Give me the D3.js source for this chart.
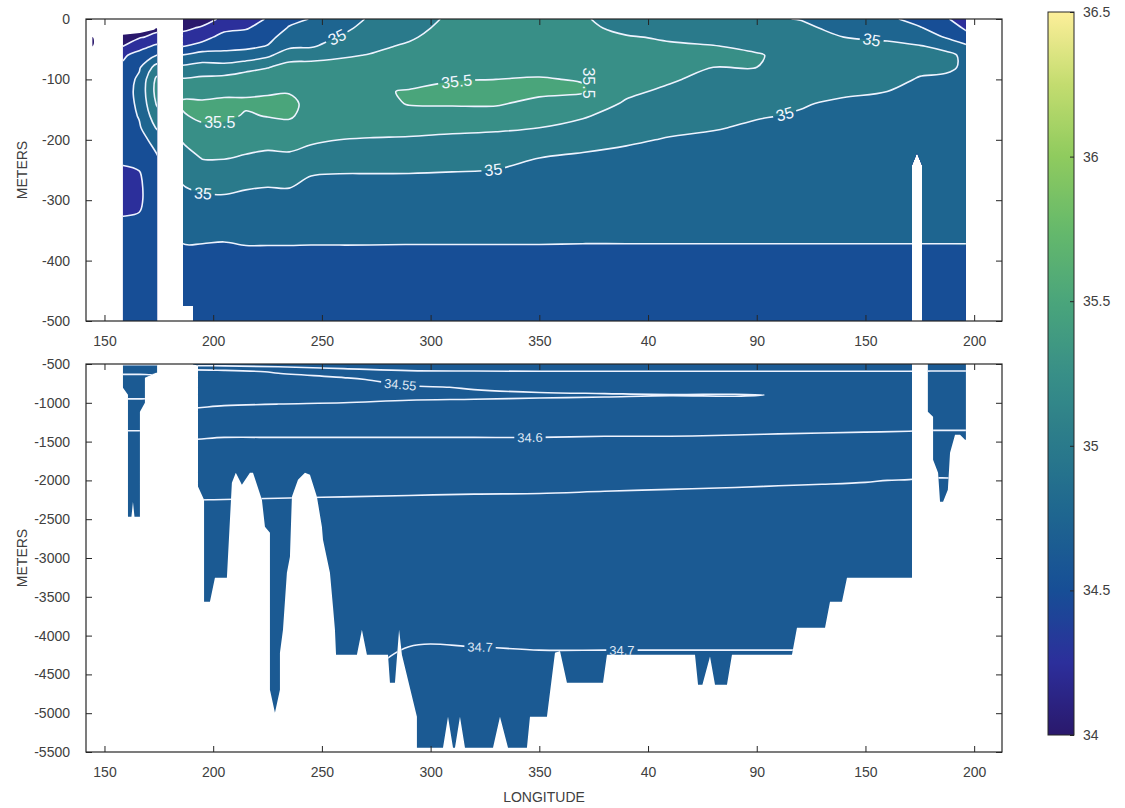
<!DOCTYPE html>
<html><head><meta charset="utf-8">
<script src="https://d3js.org/d3.v7.min.js"></script>
<style>
html,body{margin:0;padding:0;background:#fff;}
svg text{font-family:"Liberation Sans",Arial,Helvetica,sans-serif;}
</style></head>
<body>
<svg id="chart" width="1125" height="808"></svg>
<script>
// ---------------- DATA ----------------
const xTickValues = [150,200,250,300,350,400,450,500,550];
const xTickLabels = ["150","200","250","300","350","40","90","150","200"];
const topYTicks = [0,-100,-200,-300,-400,-500];
const bottomYTicks = [-500,-1000,-1500,-2000,-2500,-3000,-3500,-4000,-4500,-5000,-5500];
const colorbarTicks = [34,34.5,35,35.5,36,36.5];

// upper panel grid: station positions and depths (m)
const topCols = [144.5,158,166,174,186,195,205,215,225,235,245,258,272,290,310,330,350,370,390,410,430,450,470,490,510,525,537,547];
const topDepths = [0,-15,-30,-45,-60,-80,-100,-120,-140,-160,-180,-200,-230,-260,-300,-340,-380,-440,-500];
// salinity profile per station (one array per station, top to bottom)
const topSalinity = [
 [34.10,34.12,34.18,34.24,34.45,34.55,34.60,34.62,34.62,34.60,34.57,34.55,34.52,34.47,34.46,34.52,34.58,34.60,34.62],
 [34.10,34.12,34.18,34.24,34.45,34.55,34.60,34.62,34.62,34.60,34.57,34.55,34.52,34.47,34.46,34.52,34.58,34.60,34.62],
 [34.10,34.15,34.23,34.40,34.60,34.72,34.80,34.82,34.80,34.77,34.72,34.65,34.55,34.48,34.47,34.53,34.58,34.60,34.62],
 [34.10,34.20,34.30,34.55,34.75,35.10,35.30,35.33,35.27,35.15,35.02,34.85,34.72,34.65,34.62,34.62,34.62,34.62,34.62],
 [34.10,34.20,34.33,34.49,34.76,35.05,35.27,35.44,35.53,35.48,35.35,35.27,35.15,35.04,34.93,34.83,34.73,34.66,34.62],
 [34.15,34.28,34.40,34.60,34.85,35.10,35.30,35.43,35.53,35.55,35.46,35.37,35.26,35.12,34.95,34.83,34.73,34.66,34.62],
 [34.30,34.42,34.60,34.70,34.80,35.10,35.32,35.45,35.55,35.55,35.45,35.37,35.26,35.13,34.96,34.83,34.72,34.66,34.62],
 [34.38,34.48,34.60,34.70,34.84,35.18,35.36,35.47,35.53,35.48,35.40,35.33,35.23,35.08,34.94,34.82,34.74,34.65,34.62],
 [34.52,34.60,34.68,34.76,34.95,35.24,35.40,35.48,35.54,35.51,35.42,35.32,35.20,35.06,34.93,34.82,34.74,34.65,34.62],
 [34.68,34.77,34.86,34.95,35.15,35.33,35.44,35.49,35.54,35.53,35.43,35.33,35.21,35.07,34.93,34.82,34.74,34.65,34.62],
 [34.76,34.84,34.91,34.97,35.18,35.32,35.40,35.45,35.45,35.41,35.35,35.28,35.17,35.00,34.91,34.81,34.74,34.65,34.62],
 [34.85,34.93,35.01,35.12,35.22,35.33,35.41,35.45,35.44,35.38,35.32,35.25,35.14,34.98,34.90,34.81,34.74,34.65,34.62],
 [35.03,35.08,35.14,35.20,35.26,35.36,35.45,35.48,35.43,35.36,35.30,35.24,35.13,34.98,34.90,34.81,34.74,34.65,34.62],
 [35.12,35.17,35.22,35.28,35.33,35.40,35.45,35.51,35.51,35.44,35.33,35.22,35.12,34.98,34.90,34.80,34.74,34.65,34.62],
 [35.30,35.33,35.36,35.39,35.42,35.45,35.49,35.55,35.52,35.42,35.30,35.20,35.10,34.97,34.89,34.80,34.74,34.65,34.62],
 [35.33,35.36,35.39,35.42,35.44,35.46,35.50,35.57,35.52,35.42,35.28,35.19,35.07,34.96,34.89,34.80,34.74,34.65,34.62],
 [35.34,35.37,35.40,35.43,35.45,35.46,35.51,35.54,35.45,35.35,35.25,35.16,35.00,34.94,34.88,34.80,34.74,34.65,34.62],
 [35.28,35.31,35.34,35.38,35.42,35.45,35.49,35.52,35.40,35.28,35.16,35.07,34.97,34.92,34.87,34.79,34.74,34.66,34.62],
 [35.12,35.18,35.27,35.33,35.38,35.41,35.38,35.30,35.22,35.13,35.06,35.02,34.96,34.91,34.86,34.79,34.74,34.66,34.62],
 [35.08,35.14,35.22,35.28,35.33,35.33,35.28,35.20,35.11,35.06,35.03,34.99,34.94,34.90,34.85,34.79,34.74,34.66,34.62],
 [35.05,35.10,35.17,35.26,35.30,35.25,35.17,35.10,35.05,35.03,35.01,34.97,34.93,34.89,34.84,34.79,34.74,34.66,34.62],
 [35.02,35.06,35.12,35.20,35.27,35.25,35.16,35.09,35.04,35.01,34.98,34.95,34.92,34.88,34.84,34.79,34.74,34.66,34.62],
 [34.995,35.03,35.08,35.13,35.16,35.15,35.08,35.02,35.01,34.99,34.96,34.93,34.90,34.87,34.83,34.79,34.74,34.66,34.62],
 [34.90,34.96,35.00,35.06,35.10,35.10,35.05,35.02,34.98,34.96,34.94,34.92,34.89,34.86,34.83,34.79,34.74,34.66,34.62],
 [34.80,34.88,34.97,35.04,35.08,35.07,35.04,35.00,34.97,34.95,34.93,34.91,34.88,34.86,34.83,34.79,34.74,34.66,34.62],
 [34.66,34.77,34.90,35.01,35.05,35.03,34.99,34.96,34.94,34.92,34.90,34.89,34.87,34.85,34.82,34.79,34.74,34.66,34.62],
 [34.52,34.62,34.73,34.96,35.03,35.02,34.98,34.95,34.93,34.91,34.89,34.88,34.86,34.84,34.82,34.79,34.74,34.66,34.62],
 [34.40,34.46,34.56,34.78,34.97,34.98,34.96,34.93,34.91,34.90,34.88,34.87,34.86,34.84,34.82,34.79,34.74,34.66,34.62]
];

// lower panel grid
const bottomCols = [158,166,174,186,205,230,260,290,320,350,380,410,440,460,480,500,520,530,538,547];
const bottomDepths = [-500,-600,-700,-800,-900,-1000,-1200,-1400,-1600,-1800,-2000,-2300,-2600,-3000,-3500,-4000,-4500,-5000,-5500];
const bottomSalinity = [
 [34.605,34.555,34.54,34.535,34.545,34.555,34.58,34.605,34.615,34.625,34.635,34.645,34.652,34.675,34.685,34.69,34.696,34.699,34.705],
 [34.605,34.555,34.54,34.535,34.545,34.555,34.58,34.605,34.615,34.625,34.635,34.645,34.652,34.675,34.685,34.69,34.696,34.699,34.705],
 [34.605,34.555,34.54,34.535,34.545,34.555,34.58,34.605,34.615,34.625,34.635,34.645,34.652,34.675,34.685,34.69,34.696,34.699,34.705],
 [34.62,34.53,34.52,34.52,34.53,34.54,34.57,34.595,34.61,34.62,34.635,34.652,34.665,34.675,34.685,34.69,34.696,34.699,34.705],
 [34.62,34.535,34.52,34.52,34.53,34.545,34.572,34.597,34.61,34.62,34.636,34.653,34.666,34.676,34.686,34.69,34.696,34.699,34.705],
 [34.625,34.555,34.53,34.52,34.53,34.548,34.573,34.597,34.61,34.62,34.637,34.654,34.666,34.676,34.686,34.69,34.696,34.699,34.705],
 [34.63,34.58,34.54,34.52,34.53,34.55,34.575,34.597,34.61,34.622,34.638,34.655,34.667,34.677,34.687,34.692,34.697,34.702,34.71],
 [34.63,34.595,34.57,34.545,34.54,34.555,34.577,34.597,34.61,34.623,34.639,34.656,34.667,34.677,34.687,34.698,34.705,34.71,34.715],
 [34.63,34.597,34.575,34.553,34.543,34.556,34.578,34.597,34.61,34.624,34.64,34.657,34.667,34.677,34.687,34.698,34.705,34.71,34.715],
 [34.63,34.598,34.58,34.56,34.545,34.558,34.578,34.597,34.61,34.625,34.641,34.657,34.667,34.677,34.687,34.697,34.705,34.71,34.715],
 [34.63,34.598,34.583,34.563,34.547,34.559,34.579,34.598,34.611,34.626,34.643,34.658,34.668,34.678,34.688,34.697,34.705,34.71,34.715],
 [34.63,34.598,34.585,34.565,34.549,34.56,34.58,34.598,34.611,34.627,34.645,34.658,34.668,34.678,34.688,34.697,34.705,34.71,34.715],
 [34.63,34.598,34.586,34.568,34.548,34.561,34.581,34.599,34.612,34.628,34.646,34.659,34.668,34.678,34.688,34.697,34.705,34.71,34.715],
 [34.63,34.598,34.587,34.57,34.551,34.562,34.582,34.6,34.612,34.628,34.647,34.66,34.669,34.678,34.688,34.697,34.705,34.71,34.715],
 [34.63,34.598,34.588,34.572,34.556,34.563,34.583,34.601,34.613,34.629,34.648,34.66,34.669,34.678,34.688,34.697,34.705,34.71,34.715],
 [34.63,34.598,34.588,34.574,34.56,34.565,34.584,34.602,34.614,34.63,34.649,34.661,34.67,34.679,34.688,34.697,34.705,34.71,34.715],
 [34.63,34.598,34.588,34.575,34.563,34.567,34.585,34.603,34.615,34.632,34.651,34.662,34.67,34.679,34.688,34.697,34.705,34.71,34.715],
 [34.63,34.597,34.588,34.576,34.565,34.568,34.586,34.604,34.616,34.634,34.653,34.663,34.671,34.679,34.688,34.697,34.705,34.71,34.715],
 [34.63,34.597,34.588,34.576,34.565,34.568,34.586,34.604,34.616,34.634,34.653,34.663,34.671,34.679,34.688,34.697,34.705,34.71,34.715],
 [34.63,34.597,34.588,34.576,34.565,34.568,34.586,34.604,34.616,34.634,34.653,34.663,34.671,34.679,34.688,34.697,34.705,34.71,34.715]
];

// contour levels
const topFillLevels = [34,34.25,34.5,34.75,35,35.25,35.5,35.75,36,36.25];
const topLineLevels = [34.25,34.5,34.75,35,35.25,35.5,35.75];
const bottomFillLevels = [34.5];
const bottomLineLevels = [34.55,34.6,34.65,34.7];

// contour labels (level, approx. position; angle null = follow the line)
const topLabelLevels = [35,35.5,35,35.5,35.5,35,35,35];
const topLabelX = [256.9,203.1,195.3,312.1,372.8,328.7,463.0,503.0];
const topLabelZ = [-30,-179,-288,-113,-106,-242,-159,-30];
const topLabelAngles = [null,null,null,null,90,null,null,null];
const bottomLabelLevels = [34.55,34.6,34.7,34.7];
const bottomLabelX = [285.9,345.7,322.7,388.0];
const bottomLabelZ = [-793,-1475,-4170,-4209];
const bottomLabelAngles = [null,null,null,null];

// data coverage (first sample and deepest sample)
const dotTopX = [143.9,144.5,145.1];
const dotTopZ = [-34,-30,-34];
const dotBottomX = [143.9,144.5,145.1];
const dotBottomZ = [-41,-45,-41];
const stripTopX = [158.5,166.3,172.8,173.8,174.2];
const stripTopZ = [-26,-23,-18,-15,-16];
const stripBottomX = [158.5,160.8,160.8,162.4,163.1,163.8,166.3,166.3,168.6,168.6,173.7,174.2];
const stripBottomZ = [-805,-895,-2468,-2468,-2275,-2468,-2468,-1115,-999,-677,-612,-612];
const mainTopX = [186.1,546.2];
const mainTopZ = [0,0];
const mainBottomX = [186.1,190.7,190.7,193.0,193.0,195.8,195.8,198.5,200.8,206.3,208.6,210.4,213.2,216.9,218.3,222.4,223.8,226.1,226.1,228.4,230.7,230.7,232.1,233.9,235.3,236.2,239.0,242.2,244.5,247.7,250.0,250.5,253.7,255.1,256.0,256.5,266.1,268.4,270.7,280.4,281.3,283.6,285.5,286.8,293.7,293.7,305.7,308.0,310.3,311.2,313.5,315.8,328.7,331.9,335.6,344.3,345.7,353.5,357.2,359.5,362.7,379.3,381.1,421.6,423.0,425.0,428.5,430.8,436.3,438.6,466.2,468.5,481.4,483.7,489.2,491.5,521.4,521.4,523.7,526.0,526.0,528.7,528.7,531.1,531.1,533.4,534.3,535.7,537.9,538.9,541.2,543.5,545.8,546.2];
const mainBottomZ = [-475,-475,-505,-520,-2080,-2249,-3563,-3563,-3254,-3254,-2030,-1901,-2056,-1901,-1901,-2249,-2597,-2674,-4698,-4994,-4698,-4220,-3924,-3190,-2983,-2210,-1991,-1901,-1926,-2210,-2597,-2764,-3190,-3628,-3924,-4247,-4247,-3924,-4247,-4247,-4608,-4608,-3924,-4247,-5045,-5444,-5444,-5045,-5444,-5444,-5045,-5444,-5444,-5045,-5444,-5444,-5045,-5045,-4220,-4200,-4608,-4608,-4247,-4247,-4633,-4633,-4270,-4633,-4633,-4247,-4247,-3898,-3898,-3563,-3563,-3254,-3254,-242,-222,-242,-500,-500,-1115,-1179,-1733,-1901,-2275,-2275,-2120,-1643,-1411,-1411,-1475,-1475];

// colormap anchor colours
const cmapValues = [34.0,34.25,34.5,34.75,35.0,35.25,35.5,35.75,36.0,36.25,36.5];
const cmapColors = ["#2a186c","#2c2f9b","#174e96","#1e6590","#2a7a8b","#388f87","#4aa57b","#66b96b","#8fcb5e","#c3dc6f","#fdef9a"];

// ---------------- DRAW ----------------
const svg = d3.select("#chart");
const defs = svg.append("defs");
const color = d3.scaleLinear().domain(cmapValues).range(cmapColors).interpolate(d3.interpolateRgb).clamp(true);
const bandMidColor = v => color(v + 0.125);

const x = d3.scaleLinear().domain([141.5,562.8]).range([86,1002]);
const yTop = d3.scaleLinear().domain([0,-500]).range([19,321]).clamp(true);
const yBot = d3.scaleLinear().domain([-500,-5500]).range([364,752]).clamp(true);

const segments = [
  {top: d3.zip(dotTopX, dotTopZ), bottom: d3.zip(dotBottomX, dotBottomZ), smooth: true},
  {top: d3.zip(stripTopX, stripTopZ), bottom: d3.zip(stripBottomX, stripBottomZ)},
  {top: d3.zip(mainTopX, mainTopZ), bottom: d3.zip(mainBottomX, mainBottomZ)}
];

const closedCurve = d3.line().curve(d3.curveCatmullRomClosed.alpha(0.5));
const openCurve = d3.line().curve(d3.curveCatmullRom.alpha(0.5));

function dedupe(pts){
  const out=[];
  pts.forEach(p=>{ const q=out[out.length-1]; if(!q || Math.abs(q[0]-p[0])>0.05 || Math.abs(q[1]-p[1])>0.05) out.push(p); });
  return out;
}

function drawPanel(cfg){
  const {id, yScale, cols, rows, sal, fillLevels, fillColor, lineLevels, labLevels, labX, labZ, labAng, fontSize, labelFill} = cfg;
  const n = cols.length, m = rows.length;
  const values = [];
  for (let j=0;j<m;j++) for (let i=0;i<n;i++) values.push(sal[i][j]);
  const ix = d3.scaleLinear().domain(d3.range(n)).range(cols).clamp(true);
  const iy = d3.scaleLinear().domain(d3.range(m)).range(rows).clamp(true);
  const toPx = p => [x(ix(p[0]-0.5)), yScale(iy(p[1]-0.5))];
  const gen = d3.contours().size([n,m]);

  const clip = defs.append("clipPath").attr("id","clip-"+id);
  segments.forEach(seg=>{
    const pts = seg.top.concat(seg.bottom.slice().reverse()).map(d=>[x(d[0]), yScale(d[1])]);
    clip.append("path").attr("d", seg.smooth ? d3.line().curve(d3.curveCardinalClosed)(pts) : d3.line()(pts)+"Z");
  });
  const g = svg.append("g").attr("clip-path","url(#clip-"+id+")");

  gen.thresholds(fillLevels)(values).forEach(c=>{
    let d="";
    c.coordinates.forEach(poly=>poly.forEach(ring=>{
      const pts = dedupe(ring.slice(0,-1).map(toPx));
      if (pts.length>2) d += closedCurve(pts);
    }));
    g.append("path").attr("d", d).attr("fill", fillColor(c.value)).attr("stroke", fillColor(c.value)).attr("stroke-width",0.3);
  });

  const eps=1e-6;
  const runsByLevel = new Map();
  gen.thresholds(lineLevels)(values).forEach(c=>{
    const runs=[];
    c.coordinates.forEach(poly=>poly.forEach(ring=>{
      const f = p => ({l:p[0]<=0.5+eps, r:p[0]>=n-0.5-eps, t:p[1]<=0.5+eps, b:p[1]>=m-0.5-eps});
      const K = ring.length-1;
      const skip=[];
      for(let e=0;e<K;e++){ const a=f(ring[e]), b=f(ring[e+1]); skip.push((a.l&&b.l)||(a.r&&b.r)||(a.t&&b.t)||(a.b&&b.b)); }
      if(!skip.some(s=>s)){ const pts=dedupe(ring.slice(0,-1).map(toPx)); if(pts.length>2) runs.push({pts, closed:true}); return; }
      const start = skip.indexOf(true);
      let cur=null;
      for(let s=1;s<=K;s++){
        const e=(start+s)%K;
        if(skip[e]){ if(cur&&cur.length>1) runs.push({pts:dedupe(cur.map(toPx)),closed:false}); cur=null; }
        else { if(!cur) cur=[ring[e]]; cur.push(ring[e+1]); }
      }
      if(cur&&cur.length>1) runs.push({pts:dedupe(cur.map(toPx)),closed:false});
    }));
    runsByLevel.set(c.value, runs);
  });

  const mask = defs.append("mask").attr("id","mask-"+id).attr("maskUnits","userSpaceOnUse")
    .attr("x",0).attr("y",0).attr("width",1125).attr("height",808);
  mask.append("rect").attr("x",0).attr("y",0).attr("width",1125).attr("height",808).attr("fill","white");
  const lineG = g.append("g").attr("mask","url(#mask-"+id+")");
  runsByLevel.forEach(runs=>runs.forEach(r=>{
    if (r.pts.length<2) return;
    lineG.append("path").attr("d", r.closed ? closedCurve(r.pts) : openCurve(r.pts))
      .attr("fill","none").attr("stroke","#eef3ff").attr("stroke-width",1.6);
  }));

  const labG = g.append("g");
  labLevels.forEach((lev,k)=>{
    const ax=x(labX[k]), ay=yScale(labZ[k]);
    const runs = runsByLevel.get(lev)||[];
    let best=null;
    runs.forEach(run=>{
      const pts=run.pts, L=run.closed?pts.length:pts.length-1;
      for(let s=0;s<L;s++){
        const p=pts[s], q=pts[(s+1)%pts.length];
        const dx=q[0]-p[0], dy=q[1]-p[1], len2=dx*dx+dy*dy;
        if(len2<1e-9) continue;
        let t=((ax-p[0])*dx+(ay-p[1])*dy)/len2; t=Math.max(0,Math.min(1,t));
        const px=p[0]+t*dx, py=p[1]+t*dy, d=(px-ax)**2+(py-ay)**2;
        if(!best||d<best.d) best={d,px,py,run,s};
      }
    });
    if(!best) return;
    const pts=best.run.pts, N=pts.length;
    const i0 = best.run.closed ? (best.s-1+N)%N : Math.max(0,best.s-1);
    const i1 = best.run.closed ? (best.s+2)%N : Math.min(N-1,best.s+2);
    let ang=Math.atan2(pts[i1][1]-pts[i0][1], pts[i1][0]-pts[i0][0])*180/Math.PI;
    if(ang>90) ang-=180; if(ang<=-90) ang+=180;
    let px=best.px, py=best.py;
    if (labAng[k] !== null) { ang = labAng[k]; px = ax; py = ay; }
    const tr=`translate(${px},${py}) rotate(${ang})`;
    const t = labG.append("text").attr("transform",tr).attr("text-anchor","middle").attr("dy","0.36em")
      .attr("font-size",fontSize).attr("fill",labelFill).text(String(lev));
    const w = t.node().getComputedTextLength();
    mask.append("rect").attr("transform",tr).attr("x",-w/2-3).attr("y",-fontSize*0.45)
      .attr("width",w+6).attr("height",fontSize*0.9).attr("fill","black");
  });
}

drawPanel({id:"top", yScale:yTop, cols:topCols, rows:topDepths, sal:topSalinity,
  fillLevels:topFillLevels, fillColor:color, lineLevels:topLineLevels,
  labLevels:topLabelLevels, labX:topLabelX, labZ:topLabelZ, labAng:topLabelAngles, fontSize:16, labelFill:"#f2f6ff"});
drawPanel({id:"bot", yScale:yBot, cols:bottomCols, rows:bottomDepths, sal:bottomSalinity,
  fillLevels:bottomFillLevels, fillColor:bandMidColor, lineLevels:bottomLineLevels,
  labLevels:bottomLabelLevels, labX:bottomLabelX, labZ:bottomLabelZ, labAng:bottomLabelAngles, fontSize:13, labelFill:"#dfe7f3"});

// axes
const axisColor="#262626";
function axes(yScale, yTicks, yA, yB){
  const gb = svg.append("g").attr("transform",`translate(0,${yB})`)
    .call(d3.axisBottom(x).tickValues(xTickValues).tickFormat((d,i)=>xTickLabels[i]).tickSize(-6).tickPadding(15));
  const gt = svg.append("g").attr("transform",`translate(0,${yA})`)
    .call(d3.axisTop(x).tickValues(xTickValues).tickFormat("").tickSize(-6));
  const gl = svg.append("g").attr("transform",`translate(86,0)`)
    .call(d3.axisLeft(yScale).tickValues(yTicks).tickFormat(d=>String(d)).tickSize(-6).tickPadding(16));
  const gr = svg.append("g").attr("transform",`translate(1002,0)`)
    .call(d3.axisRight(yScale).tickValues(yTicks).tickFormat("").tickSize(-6));
  [gb,gt,gl,gr].forEach(g=>{
    g.select(".domain").remove();
    g.selectAll("line").attr("stroke",axisColor);
    g.selectAll("text").attr("fill","#404040").attr("font-size",14).attr("font-family",'"Liberation Sans",Arial,sans-serif');
  });
  svg.append("rect").attr("x",86).attr("y",yA).attr("width",916).attr("height",yB-yA)
    .attr("fill","none").attr("stroke",axisColor).attr("stroke-width",1.2);
}
axes(yTop, topYTicks, 19, 321);
axes(yBot, bottomYTicks, 364, 752);

svg.append("text").attr("transform","translate(27,170) rotate(-90)").attr("text-anchor","middle")
  .attr("font-size",14).attr("fill","#404040").text("METERS");
svg.append("text").attr("transform","translate(27,558) rotate(-90)").attr("text-anchor","middle")
  .attr("font-size",14).attr("fill","#404040").text("METERS");
svg.append("text").attr("x",544).attr("y",802).attr("text-anchor","middle")
  .attr("font-size",14).attr("fill","#404040").text("LONGITUDE");

// colorbar
const cb = d3.scaleLinear().domain(d3.extent(colorbarTicks)).range([735,12]);
const grad = defs.append("linearGradient").attr("id","cbGrad").attr("x1",0).attr("x2",0).attr("y1",1).attr("y2",0);
d3.range(0,51).forEach(k=>{ const v=34+2.5*k/50; grad.append("stop").attr("offset",k/50).attr("stop-color",color(v)); });
svg.append("rect").attr("x",1048).attr("y",12).attr("width",26).attr("height",723).attr("fill","url(#cbGrad)");
const gcb = svg.append("g").attr("transform","translate(1074,0)")
  .call(d3.axisRight(cb).tickValues(colorbarTicks).tickFormat(d=>String(d)).tickSize(-4).tickPadding(9));
gcb.select(".domain").remove();
gcb.selectAll("line").attr("stroke",axisColor);
gcb.selectAll("text").attr("fill","#404040").attr("font-size",14).attr("font-family",'"Liberation Sans",Arial,sans-serif');
svg.append("rect").attr("x",1048).attr("y",12).attr("width",26).attr("height",723)
  .attr("fill","none").attr("stroke",axisColor).attr("stroke-width",1);
</script>
</body></html>
